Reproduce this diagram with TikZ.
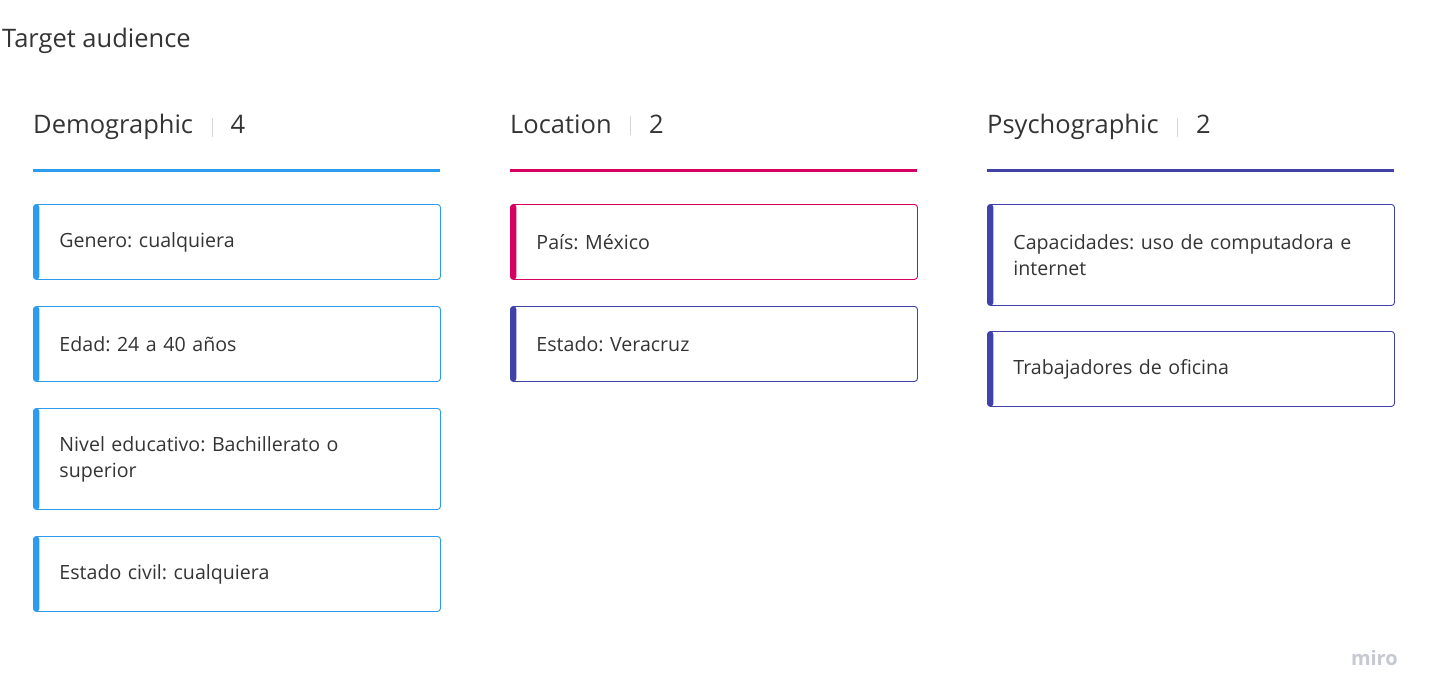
\documentclass[tikz,border=0pt]{standalone}
\usepackage{fontspec}
\setmainfont{Open Sans}
\usetikzlibrary{positioning}
\frenchspacing
\definecolor{demoblue}{RGB}{45,155,238}
\definecolor{locred}{RGB}{214,0,96}
\definecolor{psyblue}{RGB}{64,66,170}
\definecolor{inkgray}{RGB}{52,52,52}
\definecolor{sepgray}{RGB}{214,214,214}
\definecolor{logogray}{RGB}{198,200,210}
\tikzset{
  card/.style={draw=#1, line width=0.9pt, rounded corners=3pt, anchor=north west,
    inner xsep=26pt, inner ysep=0pt, text width=355pt, align=left, text=inkgray,
    font=\fontsize{19.6}{26}\selectfont,
    path picture={\fill[#1] (path picture bounding box.north west) rectangle ([xshift=6pt]path picture bounding box.south west);}},
  colhead/.style={inner sep=0pt, text=inkgray, font=\fontsize{25.5}{30}\selectfont},
  sepline/.style={sepgray, line width=1pt},
}
\begin{document}
\begin{tikzpicture}[x=1pt, y=-1pt, line cap=butt]
\useasboundingbox (0,0) rectangle (1430,698);
\node[colhead, anchor=base west] (title) at (2,48) {Target audience};
% column headers
\foreach \nm/\x/\c/\t/\n in {demo/33/demoblue/Demographic/4, loc/510/locred/Location/2, psy/987/psyblue/Psychographic/2}{
  \node[colhead, anchor=base west] (h\nm) at (\x,134) {\t};
  \node[colhead, base right=37pt of h\nm] (n\nm) {\n};
  \draw[sepline] ([xshift=19pt]h\nm.east) ++(0,-9) -- ++(0,19);
  \draw[\c, line width=3pt] (\x,171) -- ++(407,0);
}
% cards
\foreach \nm/\x/\y/\h/\c/\t in {
  demo1/33/204/75/demoblue/Genero: cualquiera,
  demo2/33/306/75/demoblue/Edad: 24 a 40 años,
  demo3/33/408/101/demoblue/Nivel educativo: Bachillerato o\\superior,
  demo4/33/536/75/demoblue/Estado civil: cualquiera,
  loc1/510/204/75/locred/País: México,
  loc2/510/306/75/psyblue/Estado: Veracruz,
  psy1/987/204/101/psyblue/Capacidades: uso de computadora e\\internet,
  psy2/987/331/75/psyblue/Trabajadores de oficina}{
  \node[card=\c, minimum height=\h pt] (\nm) at (\x,\y) {\t};
}
\node[anchor=base east, inner sep=0pt, text=logogray, font=\fontsize{20}{22}\selectfont\bfseries] (logo) at (1398,665) {miro};
\end{tikzpicture}
\end{document}
